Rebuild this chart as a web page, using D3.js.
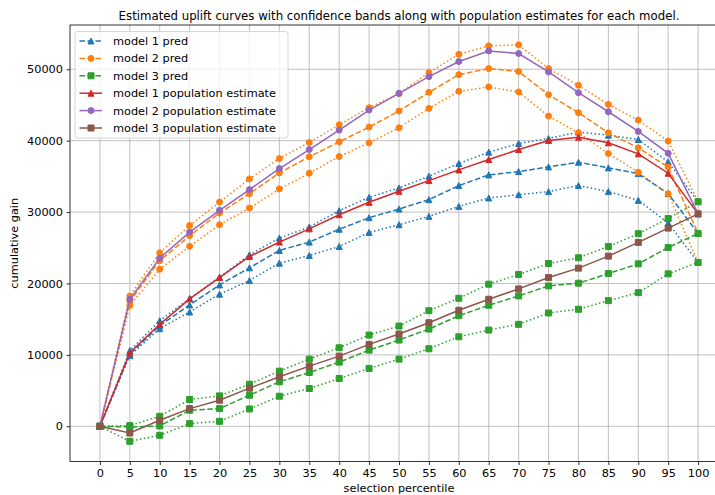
<!DOCTYPE html>
<html>
<head>
<meta charset="utf-8">
<script src="https://cdn.jsdelivr.net/npm/d3@7"></script>
<style>
  body { margin: 0; background: #fff; }
  svg text { font-family: "DejaVu Sans", sans-serif; fill: #000; }
</style>
</head>
<body>
<div id="chart"></div>
<script>
// selection percentiles
var pct = [0, 5, 10, 15, 20, 25, 30, 35, 40, 45, 50, 55, 60, 65, 70, 75, 80, 85, 90, 95, 100];

// model 1
var m1Pred  = [0, 10100, 14090, 16990, 19800, 22190, 24630, 25800, 27600, 29210, 30430, 31740, 33710, 35210, 35670, 36330, 36980, 36190, 35390, 32580, 27000];
var m1Upper = [0, 10600, 14790, 17900, 20900, 24020, 26360, 27900, 30200, 32070, 33380, 35020, 36800, 38390, 39610, 40310, 41200, 40770, 40170, 37030, 31460];
var m1Lower = [0, 9900, 13670, 16010, 18500, 20410, 22850, 23920, 25180, 27150, 28230, 29400, 30800, 31980, 32440, 32870, 33710, 32870, 31650, 28470, 22950];
var m1Pop   = [0, 10300, 14280, 17840, 20830, 23780, 25800, 27650, 29630, 31370, 32910, 34410, 35910, 37360, 38760, 40030, 40490, 39700, 38160, 35440, 29750];

// model 2
var m2Pred  = [0, 17500, 23200, 26700, 29870, 32580, 35490, 37740, 39840, 41900, 44150, 46770, 49250, 50100, 49680, 46440, 43920, 41100, 39000, 36300, 27000];
var m2Upper = [0, 18250, 24300, 28130, 31400, 34650, 37500, 39750, 42230, 44620, 46600, 49530, 52100, 53280, 53420, 50100, 47750, 45080, 42880, 39950, 31460];
var m2Lower = [0, 16900, 22000, 25200, 28230, 30570, 33240, 35440, 37780, 39700, 41810, 44520, 46910, 47520, 46820, 43440, 41100, 38200, 35580, 32560, 22950];
var m2Pop   = [0, 17800, 23550, 27200, 30250, 33150, 36100, 38760, 41480, 44290, 46630, 48970, 51080, 52570, 52200, 49630, 46720, 44050, 41290, 38230, 29750];

// model 3
var m3Pred  = [0, -100, 50, 2250, 2480, 4350, 6230, 7540, 8990, 10670, 12080, 13620, 15490, 16950, 18260, 19660, 20040, 21390, 22750, 25040, 27000];
var m3Upper = [0, 100, 1400, 3750, 4260, 5900, 7720, 9410, 11000, 12780, 14040, 16190, 17930, 19900, 21250, 22800, 23600, 25180, 26970, 29100, 31460];
var m3Lower = [0, -2100, -1260, 380, 700, 2430, 4210, 5290, 6700, 8100, 9410, 10860, 12540, 13480, 14280, 15870, 16390, 17600, 18720, 21350, 22950];
var m3Pop   = [0, -940, 840, 2480, 3650, 5340, 6930, 8430, 9830, 11470, 12920, 14510, 16250, 17790, 19240, 20830, 22150, 23830, 25750, 27760, 29750];

var yTicks = [0, 10000, 20000, 30000, 40000, 50000];

var margin = {top: 25, left: 70},
    outerWidth = 715,
    outerHeight = 495,
    width = 658,
    height = 436.5;

// matplotlib-style markers, size 6
var triangleUp = {draw: function(ctx, s) { ctx.moveTo(0, -3); ctx.lineTo(3, 3); ctx.lineTo(-3, 3); ctx.closePath(); }};
var circle = {draw: function(ctx, s) { ctx.moveTo(3, 0); ctx.arc(0, 0, 3, 0, 2 * Math.PI); }};
var square = {draw: function(ctx, s) { ctx.rect(-3, -3, 6, 6); }};

var series = [
  {name: "model 1 pred", vals: m1Pred, color: "#1f77b4", marker: triangleUp, dash: "5.55,2.4", legend: true},
  {name: "m1 upper", vals: m1Upper, color: "#1f77b4", marker: triangleUp, dash: "1.5,2.475"},
  {name: "m1 lower", vals: m1Lower, color: "#1f77b4", marker: triangleUp, dash: "1.5,2.475"},
  {name: "model 2 pred", vals: m2Pred, color: "#ff7f0e", marker: circle, dash: "5.55,2.4", legend: true},
  {name: "m2 upper", vals: m2Upper, color: "#ff7f0e", marker: circle, dash: "1.5,2.475"},
  {name: "m2 lower", vals: m2Lower, color: "#ff7f0e", marker: circle, dash: "1.5,2.475"},
  {name: "model 3 pred", vals: m3Pred, color: "#2ca02c", marker: square, dash: "5.55,2.4", legend: true},
  {name: "m3 upper", vals: m3Upper, color: "#2ca02c", marker: square, dash: "1.5,2.475"},
  {name: "m3 lower", vals: m3Lower, color: "#2ca02c", marker: square, dash: "1.5,2.475"},
  {name: "model 1 population estimate", vals: m1Pop, color: "#d62728", marker: triangleUp, dash: null, legend: true},
  {name: "model 2 population estimate", vals: m2Pop, color: "#9467bd", marker: circle, dash: null, legend: true},
  {name: "model 3 population estimate", vals: m3Pop, color: "#8c564b", marker: square, dash: null, legend: true}
];

var x = d3.scaleLinear().domain([-5, 105]).range([0, width]);
var y = d3.scaleLinear().domain([-4930, 56200]).range([height, 0]);

var root = d3.select("#chart").append("svg")
    .attr("width", outerWidth)
    .attr("height", outerHeight);

var svg = root.append("g")
    .attr("transform", "translate(" + margin.left + "," + margin.top + ")");

// grid
svg.append("g").selectAll("line")
    .data(pct)
    .enter().append("line")
    .attr("x1", function(d) { return x(d); })
    .attr("x2", function(d) { return x(d); })
    .attr("y1", 0)
    .attr("y2", height)
    .style("stroke", "#b0b0b0")
    .style("stroke-width", 0.8);
svg.append("g").selectAll("line")
    .data(yTicks)
    .enter().append("line")
    .attr("x1", 0)
    .attr("x2", width)
    .attr("y1", function(d) { return y(d); })
    .attr("y2", function(d) { return y(d); })
    .style("stroke", "#b0b0b0")
    .style("stroke-width", 0.8);

// axes
var xAxis = svg.append("g")
    .attr("transform", "translate(0," + height + ")")
    .call(d3.axisBottom(x).tickValues(pct).tickSize(3.5).tickPadding(3.5).tickFormat(d3.format("d")));
var yAxis = svg.append("g")
    .call(d3.axisLeft(y).tickValues(yTicks).tickSize(3.5).tickPadding(3.5).tickFormat(d3.format("d")));
[xAxis, yAxis].forEach(function(a) {
  a.select(".domain").remove();
  a.selectAll("line").style("stroke", "#000").style("stroke-width", 0.8);
  a.selectAll("text").style("font-size", "11.3px").style("font-family", "DejaVu Sans");
});

// lines + markers
var line = d3.line()
    .x(function(d, i) { return x(pct[i]); })
    .y(function(d) { return y(d); });

var plot = svg.append("g");
series.forEach(function(s) {
  var g = plot.append("g");
  g.append("path")
      .datum(s.vals)
      .attr("d", line)
      .style("fill", "none")
      .style("stroke", s.color)
      .style("stroke-width", 1.5)
      .style("stroke-dasharray", s.dash);
  g.selectAll(".pt")
      .data(s.vals)
      .enter().append("path")
      .attr("transform", function(d, i) { return "translate(" + x(pct[i]) + "," + y(d) + ")"; })
      .attr("d", d3.symbol().type(s.marker))
      .style("fill", s.color)
      .style("stroke", s.color)
      .style("stroke-width", 1);
});

// frame
svg.append("rect")
    .attr("width", width)
    .attr("height", height)
    .style("fill", "none")
    .style("stroke", "#000")
    .style("stroke-width", 0.8);

// labels
svg.append("text")
    .attr("x", width / 2)
    .attr("y", -5)
    .attr("text-anchor", "middle")
    .style("font-size", "11.75px")
    .text("Estimated uplift curves with confidence bands along with population estimates for each model.");
svg.append("text")
    .attr("x", width / 2)
    .attr("y", height + 30.5)
    .attr("text-anchor", "middle")
    .style("font-size", "11.3px")
    .text("selection percentile");
svg.append("text")
    .attr("transform", "rotate(-90)")
    .attr("x", -height / 2)
    .attr("y", -52)
    .attr("text-anchor", "middle")
    .style("font-size", "11.3px")
    .text("cumulative gain");

// legend
var legendItems = series.filter(function(s) { return s.legend; });
var legend = svg.append("g").attr("transform", "translate(5,6.5)");
legend.append("rect")
    .attr("width", 213)
    .attr("height", 106.5)
    .attr("rx", 2.5)
    .style("fill", "#fff")
    .style("fill-opacity", 0.8)
    .style("stroke", "#cccccc")
    .style("stroke-width", 0.8);
var li = legend.selectAll(".li")
    .data(legendItems)
    .enter().append("g")
    .attr("transform", function(d, i) { return "translate(0," + (9.5 + i * 17.4) + ")"; });
li.append("line")
    .attr("x1", 4.5)
    .attr("x2", 27)
    .style("stroke", function(d) { return d.color; })
    .style("stroke-width", 1.5)
    .style("stroke-dasharray", function(d) { return d.dash; });
li.append("path")
    .attr("transform", "translate(16,0)")
    .attr("d", function(d) { return d3.symbol().type(d.marker)(); })
    .style("fill", function(d) { return d.color; })
    .style("stroke", function(d) { return d.color; })
    .style("stroke-width", 1);
li.append("text")
    .attr("x", 38)
    .attr("y", 4)
    .style("font-size", "11.3px")
    .text(function(d) { return d.name; });
</script>
</body>
</html>
